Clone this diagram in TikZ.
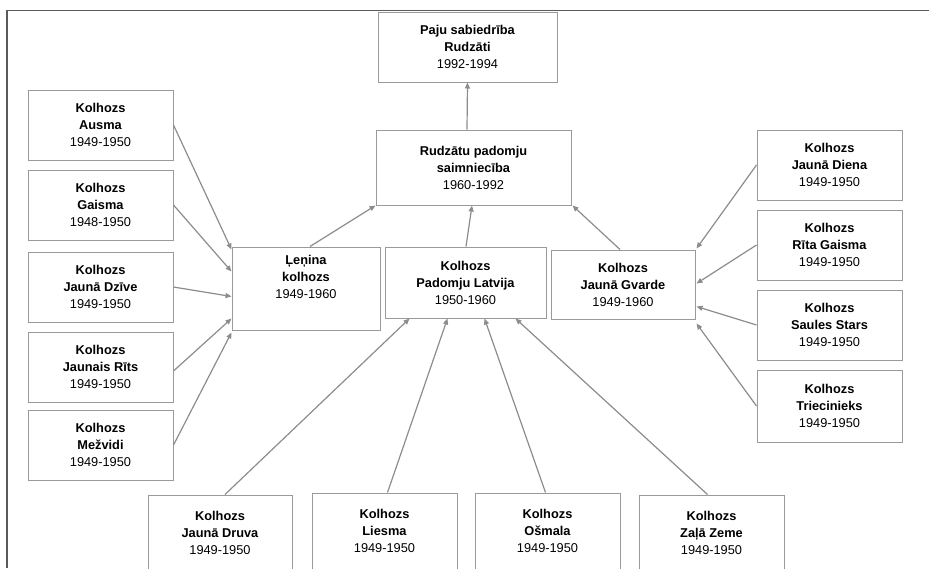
\documentclass[tikz,border=0pt]{standalone}
\usepackage{fontspec}
\setmainfont{Liberation Sans}
\usetikzlibrary{calc,arrows.meta}
\definecolor{boxgray}{HTML}{9A9A9A}
\definecolor{linegray}{HTML}{8C8C8C}
\definecolor{framegray}{HTML}{5A5A5A}
\begin{document}
\begin{tikzpicture}[x=1pt,y=-1pt,
  box/.style={draw=boxgray, line width=1pt, fill=white, align=center, inner sep=0pt,
    font=\fontsize{12.8}{17}\selectfont, minimum width=145pt, minimum height=70pt},
  conn/.style={draw=linegray, line width=1.2pt, -{Triangle[length=6pt,width=5pt]}}]
\useasboundingbox (0,0) rectangle (929,568);
% frame
\coordinate (fbl) at (7,568);
\coordinate (ftl) at (7,10.5);
\coordinate (ftr) at (929,10.5);
\draw[framegray, line width=1.5pt] (fbl) -- (ftl) -- (ftr);
% top
\node[box, minimum width=179pt] (paju) at (467.5,47) {\textbf{Paju sabiedrība}\\\textbf{Rudzāti}\\1992-1994};
\node[box, minimum width=195pt, minimum height=75pt] (rud) at (473.5,167.5) {\textbf{Rudzātu padomju}\\\textbf{saimniecība}\\1960-1992};
% middle
\node[box, minimum width=148pt, minimum height=83pt] (lenina) at (306,288.5) {\textbf{Ļeņina}\\\textbf{kolhozs}\\1949-1960\\[6pt]};
\node[box, minimum width=161pt, minimum height=71pt] (padomju) at (465.5,282.5) {\textbf{Kolhozs}\\\textbf{Padomju Latvija}\\1950-1960};
\node[box, minimum width=144pt, minimum height=69pt] (gvarde) at (623,284.5) {\textbf{Kolhozs}\\\textbf{Jaunā Gvarde}\\1949-1960};
% left column
\node[box] (ausma) at (100.5,125) {\textbf{Kolhozs}\\\textbf{Ausma}\\1949-1950};
\node[box] (gaisma) at (100.5,205) {\textbf{Kolhozs}\\\textbf{Gaisma}\\1948-1950};
\node[box] (dzive) at (100.5,287) {\textbf{Kolhozs}\\\textbf{Jaunā Dzīve}\\1949-1950};
\node[box] (rits) at (100.5,367) {\textbf{Kolhozs}\\\textbf{Jaunais Rīts}\\1949-1950};
\node[box] (mezv) at (100.5,445) {\textbf{Kolhozs}\\\textbf{Mežvidi}\\1949-1950};
% right column
\node[box] (diena) at (829.5,165) {\textbf{Kolhozs}\\\textbf{Jaunā Diena}\\1949-1950};
\node[box] (ritag) at (829.5,245) {\textbf{Kolhozs}\\\textbf{Rīta Gaisma}\\1949-1950};
\node[box] (saules) at (829.5,325) {\textbf{Kolhozs}\\\textbf{Saules Stars}\\1949-1950};
\node[box, minimum height=72pt] (triec) at (829.5,406) {\textbf{Kolhozs}\\\textbf{Triecinieks}\\1949-1950};
% bottom row
\node[box, minimum width=144pt, minimum height=76pt] (druva) at (220,533) {\textbf{Kolhozs}\\\textbf{Jaunā Druva}\\1949-1950};
\node[box, minimum height=76pt] (liesma) at (384.5,531) {\textbf{Kolhozs}\\\textbf{Liesma}\\1949-1950};
\node[box, minimum height=76pt] (osmala) at (547.5,531) {\textbf{Kolhozs}\\\textbf{Ošmala}\\1949-1950};
\node[box, minimum height=76pt] (zala) at (711.5,533) {\textbf{Kolhozs}\\\textbf{Zaļā Zeme}\\1949-1950};
% connectors
\draw[conn] ($(rud.north)+(-6.5,0)$) -- (paju.south);
\draw[conn] ($(lenina.north)+(4,0)$) -- (rud.south west);
\draw[conn] ($(padomju.north)+(0.5,0)$) -- ($(rud.south)+(-1.5,0)$);
\draw[conn] ($(gvarde.north)+(-3,0)$) -- ($(rud.south east)+(1,0)$);
\draw[conn] (ausma.east) -- ($(lenina.north west)+(0,3)$);
\draw[conn] (gaisma.east) -- ($(lenina.north west)+(0,25)$);
\draw[conn] (dzive.east) -- ($(lenina.north west)+(0,50)$);
\draw[conn] ($(rits.east)+(0,4)$) -- ($(lenina.north west)+(0,72)$);
\draw[conn] (mezv.east) -- ($(lenina.north west)+(0,86)$);
\draw[conn] (diena.west) -- ($(gvarde.north east)+(1,-1)$);
\draw[conn] (ritag.west) -- ($(gvarde.north east)+(1,34)$);
\draw[conn] (saules.west) -- ($(gvarde.north east)+(1,57)$);
\draw[conn] (triec.west) -- ($(gvarde.north east)+(1,74)$);
\draw[conn] ($(druva.north)+(5,0)$) -- ($(padomju.south west)+(25,0)$);
\draw[conn] ($(liesma.north)+(3,0)$) -- ($(padomju.south west)+(63,0)$);
\draw[conn] ($(osmala.north)+(-2,0)$) -- ($(padomju.south west)+(100,0)$);
\draw[conn] ($(zala.north)+(-4,0)$) -- ($(padomju.south west)+(131,0)$);
\end{tikzpicture}
\end{document}
